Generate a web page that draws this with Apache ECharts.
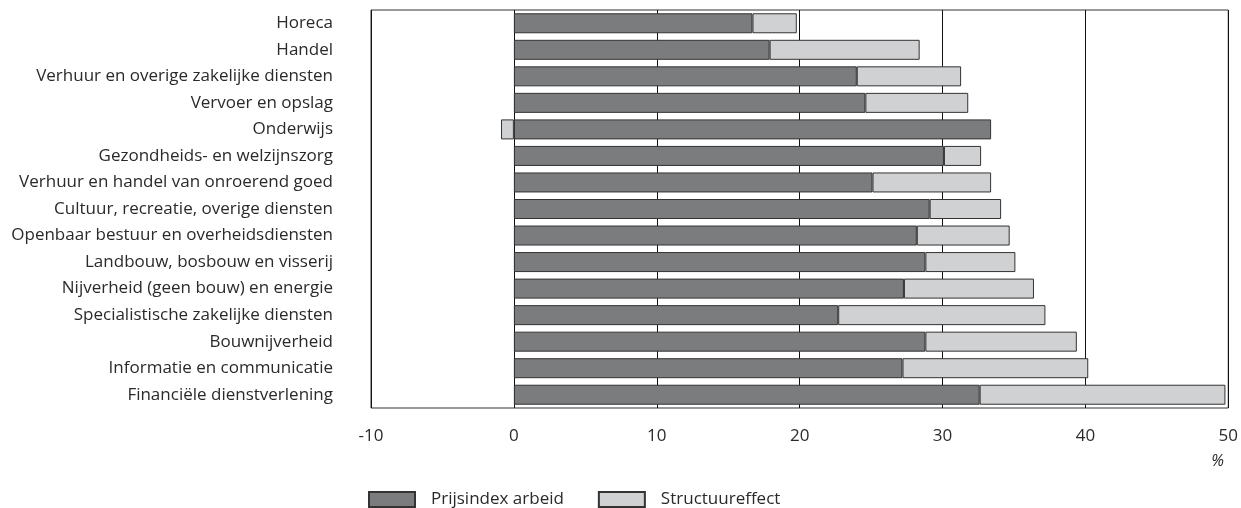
<!DOCTYPE html>
<html>
<head>
<meta charset="utf-8">
<script src="https://cdn.jsdelivr.net/npm/echarts@6/dist/echarts.min.js"></script>
<style>html,body{margin:0;padding:0;background:#fff;}#c{width:1241px;height:508px;}</style>
</head>
<body>
<div id="c"></div>
<script>
const categories = [
  'Horeca',
  'Handel',
  'Verhuur en overige zakelijke diensten',
  'Vervoer en opslag',
  'Onderwijs',
  'Gezondheids- en welzijnszorg',
  'Verhuur en handel van onroerend goed',
  'Cultuur, recreatie, overige diensten',
  'Openbaar bestuur en overheidsdiensten',
  'Landbouw, bosbouw en visserij',
  'Nijverheid (geen bouw) en energie',
  'Specialistische zakelijke diensten',
  'Bouwnijverheid',
  'Informatie en communicatie',
  'Financiële dienstverlening'
];
const prijsindexArbeid = [16.7, 17.9, 24.0, 24.6, 33.4, 30.1, 25.1, 29.1, 28.2, 28.8, 27.3, 22.7, 28.8, 27.2, 32.6];
const structuureffect  = [3.1, 10.5, 7.3, 7.2, -0.9, 2.6, 8.3, 5.0, 6.5, 6.3, 9.1, 14.5, 10.6, 13.0, 17.2];
const xTicks = [-10, 0, 10, 20, 30, 40, 50];

const FONT = '"Open Sans", sans-serif';
const TXT = '#2a2a2a';
const FS = 17;
const chart = echarts.init(document.getElementById('c'), null, {renderer: 'canvas'});
chart.setOption({
  animation: false,
  textStyle: {fontFamily: FONT},
  grid: {left: 371, right: 11, top: 10, bottom: 100, show: true, borderColor: '#333', borderWidth: 1, containLabel: false},
  legend: {
    left: 368, top: 491, padding: 0,
    itemWidth: 46, itemHeight: 15, itemGap: 34,
    icon: 'rect',
    textStyle: {fontFamily: FONT, fontSize: FS, color: TXT, padding: [0, 0, 0, 11]},
    data: ['Prijsindex arbeid', 'Structuureffect']
  },
  xAxis: {
    type: 'value',
    min: xTicks[0], max: xTicks[xTicks.length - 1], interval: 10,
    axisLine: {show: false},
    axisTick: {show: false},
    axisLabel: {fontFamily: FONT, fontSize: FS, color: TXT, margin: 20},
    splitLine: {show: true, lineStyle: {color: '#111', width: 1}}
  },
  yAxis: {
    type: 'category',
    data: categories,
    inverse: true,
    axisLine: {show: false},
    axisTick: {show: false},
    axisLabel: {fontFamily: FONT, fontSize: FS, color: TXT, margin: 38}
  },
  graphic: [{
    type: 'text', right: 17, top: 453,
    style: {text: '%', fontFamily: FONT, fontSize: 16, fontStyle: 'italic', fill: TXT}
  }],
  series: [
    {
      name: 'Prijsindex arbeid', type: 'bar', stack: 'total', barWidth: 20,
      data: prijsindexArbeid,
      itemStyle: {color: '#7b7c7e', borderColor: '#333', borderWidth: 1}
    },
    {
      name: 'Structuureffect', type: 'bar', stack: 'total', barWidth: 20,
      data: structuureffect,
      itemStyle: {color: '#d0d1d3', borderColor: '#333', borderWidth: 1}
    }
  ]
});
</script>
</body>
</html>
